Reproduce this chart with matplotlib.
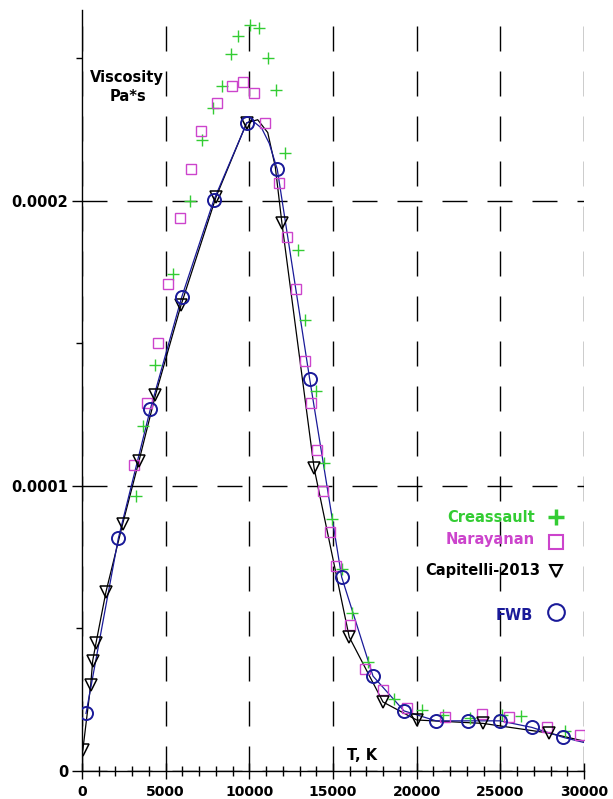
import matplotlib
matplotlib.use('Agg')
from matplotlib import pyplot as plt
from matplotlib.ticker import MultipleLocator, FixedFormatter, FixedLocator

# Creassault (green +)
creassault_T = [3230, 3650, 4390, 5440, 6480, 7170, 7850, 8350, 8920, 9340, 10020, 10580,
                11090, 11610, 12130, 12910, 13330, 13960, 14460, 14940, 15520, 16120,
                17110, 18630, 20340, 21590, 23190, 25100, 26220, 28870]
creassault_mu = [0.965e-4, 1.212e-4, 1.425e-4, 1.742e-4, 2.001e-4, 2.213e-4, 2.325e-4, 2.404e-4,
                 2.514e-4, 2.579e-4, 2.616e-4, 2.606e-4, 2.501e-4, 2.391e-4, 2.169e-4, 1.828e-4,
                 1.581e-4, 1.333e-4, 1.082e-4, 0.883e-4, 0.708e-4, 0.554e-4, 0.382e-4, 0.253e-4,
                 0.215e-4, 0.196e-4, 0.187e-4, 0.196e-4, 0.193e-4, 0.140e-4]

# Narayanan (magenta squares)
narayanan_T = [3110, 3880, 4560, 5140, 5860, 6510, 7110, 8070, 8950, 9620, 10290, 10940,
               11790, 12270, 12810, 13300, 13670, 14030, 14420, 14850, 15180, 16040, 16910,
               17970, 19440, 21690, 23890, 25540, 27770, 29760]
narayanan_mu = [1.075e-4, 1.292e-4, 1.501e-4, 1.707e-4, 1.940e-4, 2.111e-4, 2.246e-4, 2.344e-4,
                2.404e-4, 2.419e-4, 2.380e-4, 2.275e-4, 2.064e-4, 1.873e-4, 1.690e-4, 1.440e-4,
                1.291e-4, 1.126e-4, 0.982e-4, 0.840e-4, 0.719e-4, 0.514e-4, 0.358e-4, 0.284e-4,
                0.220e-4, 0.191e-4, 0.200e-4, 0.191e-4, 0.155e-4, 0.126e-4]

# Capitelli-2013 (black triangles)
capitelli_T = [50, 520, 640, 840, 1430, 2430, 3410, 4390, 5920, 8010, 9840, 11950, 13870,
               15970, 17990, 20000, 23960, 27910]
capitelli_mu = [0.074e-4, 0.302e-4, 0.387e-4, 0.450e-4, 0.628e-4, 0.867e-4, 1.089e-4, 1.319e-4,
                1.635e-4, 2.014e-4, 2.274e-4, 1.921e-4, 1.063e-4, 0.470e-4, 0.242e-4, 0.179e-4,
                0.167e-4, 0.133e-4]
# black curve (markers plus a few points round the peak)
capitelli_line_T = [50, 520, 640, 840, 1430, 2430, 3410, 4390, 5920, 8010, 9840, 10500,
                    11100, 11550, 11950, 13870, 15970, 17990, 20000, 23960, 27910, 30000]
capitelli_line_mu = [0.074e-4, 0.302e-4, 0.387e-4, 0.450e-4, 0.628e-4, 0.867e-4, 1.089e-4,
                     1.319e-4, 1.635e-4, 2.014e-4, 2.274e-4, 2.285e-4, 2.240e-4, 2.120e-4,
                     1.921e-4, 1.063e-4, 0.470e-4, 0.242e-4, 0.179e-4, 0.167e-4, 0.133e-4,
                     0.105e-4]

# FWB (navy circles)
fwb_T = [240, 2170, 4090, 5960, 7870, 9840, 11670, 13610, 15520, 17390, 19240, 21160, 23090,
         24980, 26880, 28760]
fwb_mu = [0.202e-4, 0.816e-4, 1.271e-4, 1.663e-4, 2.002e-4, 2.273e-4, 2.111e-4, 1.374e-4,
          0.680e-4, 0.333e-4, 0.211e-4, 0.176e-4, 0.176e-4, 0.176e-4, 0.153e-4, 0.118e-4]
fwb_line_T = [240, 2170, 4090, 5960, 7870, 9840, 10140, 10740, 11190, 11670, 13610, 15520,
              17390, 19240, 21160, 23090, 24980, 26880, 28760, 30000]
fwb_line_mu = [0.202e-4, 0.816e-4, 1.271e-4, 1.663e-4, 2.002e-4, 2.273e-4, 2.284e-4, 2.255e-4,
               2.202e-4, 2.111e-4, 1.374e-4, 0.680e-4, 0.333e-4, 0.211e-4, 0.176e-4, 0.176e-4,
               0.176e-4, 0.153e-4, 0.118e-4, 0.100e-4]

y_ticks = [0, 0.0001, 0.0002]
y_labels = ['0', '0.0001', '0.0002']

green = '#33cc33'
magenta = '#cc44cc'
navy = '#1a1a99'

plt.rcParams['font.family'] = 'DejaVu Sans'
plt.rcParams['font.weight'] = 'bold'
plt.rcParams['lines.scale_dashes'] = False

fig = plt.figure(figsize=(6.13, 7.99), dpi=100)
ax = fig.add_axes([82 / 613, 28 / 799, 502 / 613, 761 / 799])

ax.plot(capitelli_line_T, capitelli_line_mu, '-', color='black', lw=0.9, zorder=3)
ax.plot(fwb_line_T, fwb_line_mu, '-', color=navy, lw=0.9, zorder=3)

ax.plot(creassault_T, creassault_mu, '+', color=green, ms=8, mew=1.0, zorder=4)
ax.plot(narayanan_T, narayanan_mu, 's', mfc='none', mec=magenta, ms=6.8, mew=1.0, zorder=4)
ax.plot(capitelli_T, capitelli_mu, 'v', mfc='none', mec='black', ms=8.6, mew=1.1, zorder=5)
ax.plot(fwb_T, fwb_mu, 'o', mfc='none', mec=navy, ms=9.4, mew=1.4, zorder=6)

ax.set_xlim(0, 30000)
ax.set_ylim(0, 2.67e-4)
ax.xaxis.set_major_locator(MultipleLocator(5000))
ax.xaxis.set_minor_locator(MultipleLocator(1000))
ax.yaxis.set_major_locator(FixedLocator(y_ticks))
ax.yaxis.set_major_formatter(FixedFormatter(y_labels))
ax.yaxis.set_minor_locator(MultipleLocator(0.00005))

ax.tick_params(axis='x', which='major', direction='inout', length=12, width=1, labelsize=10, pad=4)
ax.tick_params(axis='x', which='minor', direction='inout', length=7, width=1)
ax.tick_params(axis='y', which='major', direction='out', length=7, width=1, labelsize=10.5, pad=3)
ax.tick_params(axis='y', which='minor', direction='out', length=4, width=1)
for lab in ax.get_xticklabels() + ax.get_yticklabels():
    lab.set_fontweight('bold')

ax.spines['top'].set_visible(False)
ax.spines['right'].set_visible(False)
ax.spines['left'].set_linewidth(1)
ax.spines['bottom'].set_linewidth(1)

ax.grid(True, which='major', color='black', lw=1, linestyle=(0, (18, 14.4)), zorder=1)
ax.set_axisbelow(True)

ax.text(2690, 2.433e-4, 'Viscosity', ha='center', va='center', fontsize=10.5, fontweight='bold')
ax.text(2720, 2.365e-4, 'Pa*s', ha='center', va='center', fontsize=10.5, fontweight='bold')
ax.text(16730, 0.053e-4, 'T, K', ha='center', va='center', fontsize=10.5, fontweight='bold')

# legend drawn by hand, like the original
ax.text(27070, 0.889e-4, 'Creassault', ha='right', va='center', color=green, fontsize=10.5, fontweight='bold')
ax.text(27070, 0.811e-4, 'Narayanan', ha='right', va='center', color=magenta, fontsize=10.5, fontweight='bold')
ax.text(27370, 0.705e-4, 'Capitelli-2013', ha='right', va='center', color='black', fontsize=10.5, fontweight='bold')
ax.text(26950, 0.547e-4, 'FWB', ha='right', va='center', color=navy, fontsize=10.5, fontweight='bold')
ax.plot([28330], [0.892e-4], '+', color=green, ms=11, mew=2.5, clip_on=False)
ax.plot([28330], [0.805e-4], 's', mfc='none', mec=magenta, ms=10, mew=1.5, clip_on=False)
ax.plot([28330], [0.703e-4], 'v', mfc='none', mec='black', ms=9, mew=1.5, clip_on=False)
ax.plot([28330], [0.559e-4], 'o', mfc='none', mec=navy, ms=12, mew=1.5, clip_on=False)

fig.savefig('out.png', dpi=100)
